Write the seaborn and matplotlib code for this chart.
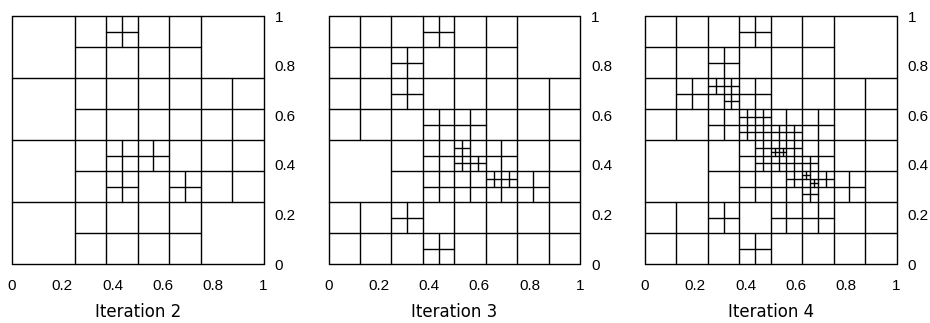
import matplotlib
matplotlib.use("Agg")
import matplotlib.pyplot as plt
import numpy as np
import pandas as pd
import seaborn as sns

# base grid: 4 x 4 coarse cells of size 0.25
BASE_LINES = [0.0, 0.25, 0.5, 0.75, 1.0]
TICKS = [0, 0.2, 0.4, 0.6, 0.8, 1]
TICK_LABELS = ["0", "0.2", "0.4", "0.6", "0.8", "1"]
TITLES = ["Iteration 2", "Iteration 3", "Iteration 4"]

# lower-left corners of the cells that were refined, grouped by cell size
IT2_SPLIT_250 = [(0.25, 0.75), (0.5, 0.75), (0.25, 0.5), (0.5, 0.5), (0.75, 0.5),
                 (0.25, 0.25), (0.5, 0.25), (0.75, 0.25), (0.25, 0.0), (0.5, 0.0)]
IT2_SPLIT_125 = [(0.375, 0.875), (0.375, 0.375), (0.375, 0.25), (0.5, 0.375), (0.625, 0.25)]

IT3_SPLIT_250 = [(0.0, 0.75), (0.25, 0.75), (0.5, 0.75),
                 (0.0, 0.5), (0.25, 0.5), (0.5, 0.5), (0.75, 0.5),
                 (0.25, 0.25), (0.5, 0.25), (0.75, 0.25),
                 (0.0, 0.0), (0.25, 0.0), (0.5, 0.0), (0.75, 0.0)]
IT3_SPLIT_125 = [(0.375, 0.875), (0.25, 0.75), (0.25, 0.625), (0.375, 0.5), (0.5, 0.5),
                 (0.375, 0.375), (0.5, 0.375), (0.625, 0.375), (0.375, 0.25), (0.5, 0.25),
                 (0.625, 0.25), (0.75, 0.25), (0.25, 0.125), (0.375, 0.0)]
IT3_SPLIT_0625 = [(0.5, 0.4375), (0.5, 0.375), (0.5625, 0.375), (0.625, 0.3125), (0.6875, 0.3125)]

IT4_SPLIT_250 = IT3_SPLIT_250
IT4_SPLIT_125 = [(0.375, 0.875), (0.25, 0.75),
                 (0.125, 0.625), (0.25, 0.625), (0.375, 0.625), (0.25, 0.5), (0.375, 0.5),
                 (0.5, 0.5), (0.625, 0.5),
                 (0.375, 0.375), (0.5, 0.375), (0.625, 0.375), (0.375, 0.25), (0.5, 0.25),
                 (0.625, 0.25), (0.75, 0.25),
                 (0.25, 0.125), (0.375, 0.0), (0.5, 0.125), (0.625, 0.125)]
IT4_SPLIT_0625 = [(0.25, 0.6875), (0.3125, 0.6875), (0.3125, 0.625),
                  (0.375, 0.5), (0.4375, 0.5), (0.375, 0.5625), (0.4375, 0.5625),
                  (0.5, 0.5), (0.5625, 0.5),
                  (0.4375, 0.375), (0.4375, 0.4375),
                  (0.5, 0.4375), (0.5625, 0.4375), (0.5, 0.375), (0.5625, 0.375), (0.625, 0.375),
                  (0.5625, 0.3125), (0.625, 0.3125), (0.6875, 0.3125), (0.625, 0.25)]
IT4_SPLIT_03125 = [(0.5, 0.4375), (0.53125, 0.4375), (0.625, 0.34375), (0.65625, 0.3125)]

ITERATIONS = [
    {0.25: IT2_SPLIT_250, 0.125: IT2_SPLIT_125},
    {0.25: IT3_SPLIT_250, 0.125: IT3_SPLIT_125, 0.0625: IT3_SPLIT_0625},
    {0.25: IT4_SPLIT_250, 0.125: IT4_SPLIT_125, 0.0625: IT4_SPLIT_0625,
     0.03125: IT4_SPLIT_03125},
]


def mesh_segments(splits):
    rows = []

    def add(x0, y0, x1, y1):
        seg = len(rows) // 2
        rows.append((seg, x0, y0))
        rows.append((seg, x1, y1))

    for v in BASE_LINES:
        add(v, 0.0, v, 1.0)
        add(0.0, v, 1.0, v)
    for size, cells in splits.items():
        h = size / 2
        for x, y in cells:
            add(x + h, y, x + h, y + size)
            add(x, y + h, x + size, y + h)
    return pd.DataFrame(rows, columns=["seg", "x", "y"])


sns.set_style("white")
plt.rcParams["font.family"] = ["DejaVu Sans"]
plt.rcParams["text.color"] = "black"
plt.rcParams["xtick.color"] = "black"
plt.rcParams["ytick.color"] = "black"
plt.rcParams["axes.labelcolor"] = "black"

fig = plt.figure(figsize=(9.3, 3.23), dpi=100)
lefts = [12 / 930, 328.5 / 930, 645 / 930]
tick_font = ["Liberation Sans", "DejaVu Sans"]

for left, splits, title in zip(lefts, ITERATIONS, TITLES):
    ax = fig.add_axes([left, 59 / 323, 251.5 / 930, 248 / 323])
    df = mesh_segments(splits)
    sns.lineplot(data=df, x="x", y="y", units="seg", estimator=None, sort=False,
                 color="black", lw=1.0, clip_on=False, ax=ax, legend=False)
    ax.set_xlim(0, 1)
    ax.set_ylim(0, 1)
    for s in ax.spines.values():
        s.set_visible(False)
    ax.yaxis.tick_right()
    ax.set_xticks(TICKS)
    ax.set_xticklabels(TICK_LABELS, family=tick_font, fontsize=11)
    ax.set_yticks(TICKS)
    ax.set_yticklabels(TICK_LABELS, family=tick_font, fontsize=11)
    ax.tick_params(axis="x", length=0, pad=11)
    ax.tick_params(axis="y", length=0, pad=8)
    ax.set_ylabel("")
    ax.set_xlabel(title, fontsize=12, labelpad=7)

fig.savefig("out.png", dpi=100)
